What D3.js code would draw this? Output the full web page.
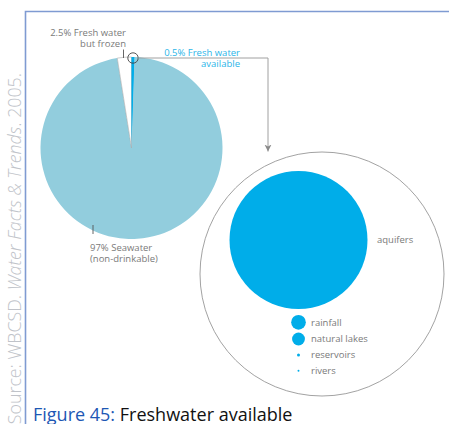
<!DOCTYPE html>
<html><head><meta charset="utf-8">
<script src="https://cdn.jsdelivr.net/npm/d3@7"></script>
<style>
html,body{margin:0;padding:0;background:#fff;}
svg{display:block;font-family:"Open Sans","Noto Sans",sans-serif;}
</style></head>
<body>
<script>
// ---- data ----
const pieLabels = ["0.5% Fresh water available", "97% Seawater (non-drinkable)", "2.5% Fresh water but frozen"];
const pieKeys = ["available", "seawater", "frozen"];
const pieValues = [0.5, 97, 2.5];
const sourceNames = ["aquifers", "rainfall", "natural lakes", "reservoirs", "rivers"];
const sourceVolumes = [10530000, 119000, 91000, 5000, 2120]; // km3
const captionNumber = "Figure 45:";
const captionTitle = "Freshwater available";
const sourceNote = ["Source: WBCSD. ", "Water Facts & Trends", ". 2005."];

const W = 449, H = 424;
const svg = d3.select("body").append("svg").attr("width", W).attr("height", H);

const colors = {available: "#00ade9", seawater: "#92cddd", frozen: "#ffffff"};
const grey = "#7a7a7a";

// frame
svg.append("path").attr("d", `M${W},11.5 H25.5 V${H}`).attr("fill", "none")
  .attr("stroke", "#7f9bd2").attr("stroke-width", 1.6);

// vertical source note
const sn = svg.append("text").attr("transform", "translate(20.5,73) rotate(-90)")
  .attr("text-anchor", "end").attr("font-size", 17.8).attr("fill", "#c0c3c9").attr("font-weight", 300);
sn.append("tspan").text(sourceNote[0]);
sn.append("tspan").attr("font-style", "italic").text(sourceNote[1]);
sn.append("tspan").text(sourceNote[2]);

// pie
const cx = 131.5, cy = 148, R = 91;
const pie = d3.pie().sort(null).value(d => d.v);
const pieData = pie(pieValues.map((v, i) => ({v, k: pieKeys[i], label: pieLabels[i]})));
const arc = d3.arc().innerRadius(0).outerRadius(R);
const pg = svg.append("g").attr("transform", `translate(${cx},${cy})`);
pg.selectAll("path").data(pieData).join("path")
  .attr("d", arc)
  .attr("fill", d => colors[d.data.k])
  .attr("stroke", d => d.data.k === "frozen" ? "#a9a9a9" : "none")
  .attr("stroke-width", 0.6);
// redraw available slice on top
pg.append("path").datum(pieData[0]).attr("d", arc).attr("fill", colors.available);

// highlight circle at top of available slice
const hx = cx + 1.5, hy = cy - R + 1;
svg.append("circle").attr("cx", hx).attr("cy", hy).attr("r", 5.2)
  .attr("fill", "none").attr("stroke", "#444").attr("stroke-width", 0.9);

// big container circle + bubbles
const bcx = 322, bcy = 274, bR = 122;
svg.append("circle").attr("cx", bcx).attr("cy", bcy).attr("r", bR)
  .attr("fill", "none").attr("stroke", "#8a8a8a").attr("stroke-width", 0.8);

// connector with arrow
svg.append("defs").append("marker").attr("id", "arr").attr("viewBox", "0 0 10 10")
  .attr("refX", 10).attr("refY", 5).attr("markerWidth", 7).attr("markerHeight", 9)
  .attr("markerUnits", "userSpaceOnUse").attr("orient", "auto")
  .append("path").attr("d", "M0,0 L10,5 L0,10 L3,5 Z").attr("fill", "#8a8a8a");
svg.append("path").attr("d", `M${hx + 5.2},${hy} H268 V151.5`).attr("fill", "none")
  .attr("stroke", "#a0a0a0").attr("stroke-width", 1).attr("marker-end", "url(#arr)");

const rScale = d3.scaleSqrt().domain([0, d3.max(sourceVolumes)]).range([0, 69]);
const bubbles = sourceNames.map((n, i) => ({name: n, v: sourceVolumes[i]}));
const bx = 298.5;
const ys = [240, 322.3, 339, 355, 370.7];
svg.selectAll("circle.src").data(bubbles).join("circle").attr("class", "src")
  .attr("cx", bx).attr("cy", (d, i) => ys[i]).attr("r", d => rScale(d.v))
  .attr("fill", colors.available);
svg.selectAll("text.src").data(bubbles).join("text").attr("class", "src")
  .attr("x", (d, i) => i === 0 ? 377 : 311).attr("y", (d, i) => ys[i]).attr("dy", "0.35em")
  .attr("font-size", 9.5).attr("fill", grey).text(d => d.name);

// pie labels
const lab = (x, y, lines, anchor, color) => {
  const t = svg.append("text").attr("text-anchor", anchor).attr("font-size", 9.5).attr("fill", color);
  lines.forEach((l, i) => t.append("tspan").attr("x", x).attr("y", y + i * 11.2).text(l));
};
lab(126, 35.5, ["2.5% Fresh water", "but frozen"], "end", grey);
svg.append("line").attr("x1", 123.5).attr("x2", 123.5).attr("y1", 49.5).attr("y2", 58).attr("stroke", "#555").attr("stroke-width", 0.9);
lab(240, 56, ["0.5% Fresh water", "available"], "end", "#2bb5e8");
lab(90, 250.5, ["97% Seawater", "(non-drinkable)"], "start", grey);
svg.append("line").attr("x1", 93).attr("x2", 93).attr("y1", 225).attr("y2", 234).attr("stroke", "#555").attr("stroke-width", 0.9);

// caption
const cap = svg.append("text").attr("x", 33).attr("y", 420.5).attr("font-size", 18);
cap.append("tspan").attr("fill", "#1d57b4").text(captionNumber + " ");
cap.append("tspan").attr("fill", "#111").text(captionTitle);
</script>
</body></html>
